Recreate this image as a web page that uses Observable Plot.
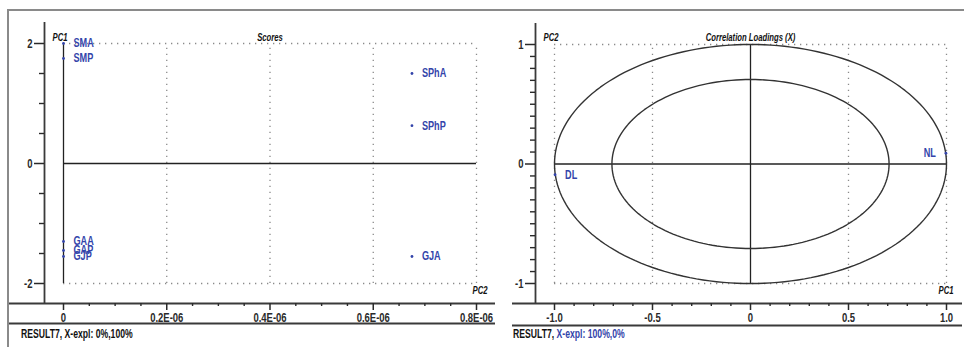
<!DOCTYPE html>
<html><head><meta charset="utf-8">
<script src="https://cdn.jsdelivr.net/npm/d3@7"></script>
<script src="https://cdn.jsdelivr.net/npm/@observablehq/plot@0.6"></script>
<style>
body{margin:0;background:#fff;width:964px;height:347px;overflow:hidden;position:relative;font-family:"Liberation Sans",Arial,sans-serif;}
#frame{position:absolute;left:7px;top:9px;width:970px;height:360px;border-top:2px solid #8a8a8a;border-left:2px solid #8a8a8a;z-index:5;pointer-events:none;}
.panel{position:absolute;top:0;}
.foot{position:absolute;top:328px;font-weight:bold;font-size:12px;line-height:13px;color:#111;white-space:nowrap;transform:scaleX(0.72);transform-origin:left center;}
</style></head><body>
<div id="frame"></div>
<div id="left" class="panel" style="left:8px"></div>
<div id="right" class="panel" style="left:510px"></div>
<div class="foot" style="left:21px">RESULT7, X-expl: 0%,100%</div>
<div class="foot" style="left:513px">RESULT7, <span style="color:#3344aa">X-expl: 100%,0%</span></div>
<script>
// ---- Scores panel data ----
const scoreNames = ["SMA", "SMP", "GAA", "GAP", "GJP", "SPhA", "SPhP", "GJA"];
const scorePC2 = [0, 0, 0, 0, 0, 0.675e-6, 0.675e-6, 0.675e-6];
const scorePC1 = [2.0, 1.75, -1.3, -1.45, -1.55, 1.5, 0.63, -1.55];
const scoreXTicks = [0, 0.2e-6, 0.4e-6, 0.6e-6, 0.8e-6];
const scoreXTickLabels = ["0", "0.2E-06", "0.4E-06", "0.6E-06", "0.8E-06"];
const scoreXMinor = [0.05e-6, 0.1e-6, 0.15e-6, 0.25e-6, 0.3e-6, 0.35e-6, 0.45e-6, 0.5e-6, 0.55e-6, 0.65e-6, 0.7e-6, 0.75e-6];
const scoreYTicks = [2, 0, -2];
const scoreYTickLabels = ["2", "0", "-2"];
const scoreYMinor = [1.5, 1, 0.5, -0.5, -1, -1.5];

// ---- Correlation loadings panel data ----
const loadNames = ["NL", "DL"];
const loadPC1 = [0.997, -0.997];
const loadPC2 = [0.09, -0.09];
const loadXTicks = [-1, -0.5, 0, 0.5, 1];
const loadXTickLabels = ["-1.0", "-0.5", "0", "0.5", "1.0"];
const loadXMinor = [-0.9, -0.8, -0.7, -0.6, -0.4, -0.3, -0.2, -0.1, 0.1, 0.2, 0.3, 0.4, 0.6, 0.7, 0.8, 0.9];
const loadYTicks = [1, 0, -1];
const loadYTickLabels = ["1", "0", "-1"];
const loadYMinor = [0.9, 0.8, 0.7, 0.6, 0.5, 0.4, 0.3, 0.2, 0.1, -0.1, -0.2, -0.3, -0.4, -0.5, -0.6, -0.7, -0.8, -0.9];
const circleRadii = [1, 0.707];

const FONT = `"Liberation Sans",Arial,sans-serif`;
const BLUE = "#3344aa";
const dotted = {stroke: "#8a8a8a", strokeDasharray: "1.3,4.7", strokeWidth: 1.3};
const solid = {stroke: "#222", strokeWidth: 1.3};
const axisLine = {stroke: "#3a3a3a", strokeWidth: 1.8};
const FS = 12.5;
const TFS = 11.5;

const scores = scoreNames.map((n, i) => ({name: n, x: scorePC2[i], y: scorePC1[i]}));
const loads = loadNames.map((n, i) => ({name: n, x: loadPC1[i], y: loadPC2[i]}));

const baseStyle = {fontFamily: FONT, fontWeight: "bold", fontSize: FS + "px", color: "#2a2a2a", background: "transparent", overflow: "visible"};

// narrow the glyphs (Arial Narrow look) without moving the text anchors
function narrow(svg) {
  svg.querySelectorAll("text").forEach(t => {
    const tr = t.getAttribute("transform");
    const k = t.closest('[font-style="italic"]') ? 0.67 : 0.76;
    if (tr && /^translate/.test(tr) && !t.hasAttribute("x")) t.setAttribute("transform", tr + ` scale(${k},1)`);
  });
  return svg;
}

function axes(yT, yL, yM, xT, xL, xM) {
  return [
    Plot.axisY(yT, {anchor: "left", dx: -19, tickSize: 10, tickPadding: 2, strokeWidth: 1.5, label: null,
      tickFormat: d => yL[yT.indexOf(d)], fontSize: FS, fontWeight: "bold"}),
    Plot.axisY(yM, {anchor: "left", dx: -19, tickSize: 5, strokeWidth: 1.4, label: null, tickFormat: () => ""}),
    Plot.axisX(xT, {anchor: "bottom", dy: 20, tickSize: 7, tickPadding: 3, strokeWidth: 1.5, label: null,
      tickFormat: d => xL[xT.indexOf(d)], fontSize: FS, fontWeight: "bold"}),
    Plot.axisX(xM, {anchor: "bottom", dy: 20, tickSize: 3, strokeWidth: 1.4, label: null, tickFormat: () => ""})
  ];
}

// ---- Left: Scores ----
const left = Plot.plot({
  width: 492, height: 330,
  marginLeft: 55, marginRight: 24, marginTop: 43, marginBottom: 47,
  x: {domain: [0, 0.8e-6]},
  y: {domain: [-2, 2]},
  style: baseStyle,
  marks: [
    Plot.ruleX(scoreXTicks.slice(1), {y1: -2, y2: 2, ...dotted}),
    Plot.ruleY([2, -2], {x1: 0, x2: 0.8e-6, ...dotted}),
    Plot.ruleY([0], {x1: 0, x2: 0.8e-6, ...solid}),
    Plot.ruleX([0], {y1: -2, y2: 2, ...solid}),
    Plot.ruleX([0], {dx: -19, insetTop: -21, insetBottom: -20, ...axisLine}),
    Plot.ruleY([-2], {dy: 20, insetLeft: -55, insetRight: -19, ...axisLine}),
    Plot.ruleY([-2], {dy: 40, insetLeft: -55, insetRight: -19, ...axisLine}),
    ...axes(scoreYTicks, scoreYTickLabels, scoreYMinor, scoreXTicks, scoreXTickLabels, scoreXMinor),
    Plot.dot(scores, {x: "x", y: "y", r: 1.4, fill: BLUE, stroke: null}),
    Plot.text(scores, {x: "x", y: "y", text: "name", dx: 10, textAnchor: "start", fill: BLUE, fontSize: 12, fontWeight: "bold"}),
    Plot.text(["Scores"], {frameAnchor: "top", dy: -11, fontStyle: "italic", fontSize: TFS, fill: "#111"}),
    Plot.text(["PC1"], {frameAnchor: "top-left", dx: -11, dy: -11, textAnchor: "start", fontStyle: "italic", fontSize: TFS, fill: "#111"}),
    Plot.text(["PC2"], {frameAnchor: "bottom-right", dx: 11, dy: 10, textAnchor: "end", fontStyle: "italic", fontSize: TFS, fill: "#111"})
  ]
});
document.getElementById("left").appendChild(narrow(left));

// ---- Right: Correlation Loadings ----
const angles = d3.range(0, 361, 2);
const circles = circleRadii.flatMap(r => angles.map(a => ({r, x: r * Math.cos(a * Math.PI / 180), y: r * Math.sin(a * Math.PI / 180)})));

const right = Plot.plot({
  width: 454, height: 330,
  marginLeft: 44, marginRight: 18, marginTop: 44, marginBottom: 47,
  x: {domain: [-1, 1]},
  y: {domain: [-1, 1]},
  style: baseStyle,
  marks: [
    Plot.ruleX([-1, -0.5, 0.5, 1], {y1: -1, y2: 1, ...dotted}),
    Plot.ruleY([1, -1], {x1: -1, x2: 1, ...dotted}),
    Plot.ruleY([0], {x1: -1, x2: 1, ...solid}),
    Plot.ruleX([0], {y1: -1, y2: 1, ...solid}),
    Plot.line(circles, {x: "x", y: "y", z: "r", stroke: "#333", strokeWidth: 1.4, curve: "linear"}),
    Plot.ruleX([-1], {dx: -19, insetTop: -21, insetBottom: -20, ...axisLine}),
    Plot.ruleY([-1], {dy: 20, insetLeft: -42, insetRight: -16, ...axisLine}),
    Plot.ruleY([-1], {dy: 42, insetLeft: -42, insetRight: -16, ...axisLine}),
    ...axes(loadYTicks, loadYTickLabels, loadYMinor, loadXTicks, loadXTickLabels, loadXMinor),
    Plot.dot(loads, {x: "x", y: "y", r: 1.4, fill: BLUE, stroke: null}),
    Plot.text(loads.filter(d => d.x > 0), {x: "x", y: "y", text: "name", dx: -10, textAnchor: "end", fill: BLUE, fontSize: 12, fontWeight: "bold"}),
    Plot.text(loads.filter(d => d.x < 0), {x: "x", y: "y", text: "name", dx: 10, textAnchor: "start", fill: BLUE, fontSize: 12, fontWeight: "bold"}),
    Plot.text(["Correlation Loadings (X)"], {frameAnchor: "top", dy: -12, fontStyle: "italic", fontSize: TFS, fill: "#111"}),
    Plot.text(["PC2"], {frameAnchor: "top-left", dx: -11, dy: -12, textAnchor: "start", fontStyle: "italic", fontSize: TFS, fill: "#111"}),
    Plot.text(["PC1"], {frameAnchor: "bottom-right", dx: 7, dy: 10, textAnchor: "end", fontStyle: "italic", fontSize: TFS, fill: "#111"})
  ]
});
document.getElementById("right").appendChild(narrow(right));
</script>
</body></html>
